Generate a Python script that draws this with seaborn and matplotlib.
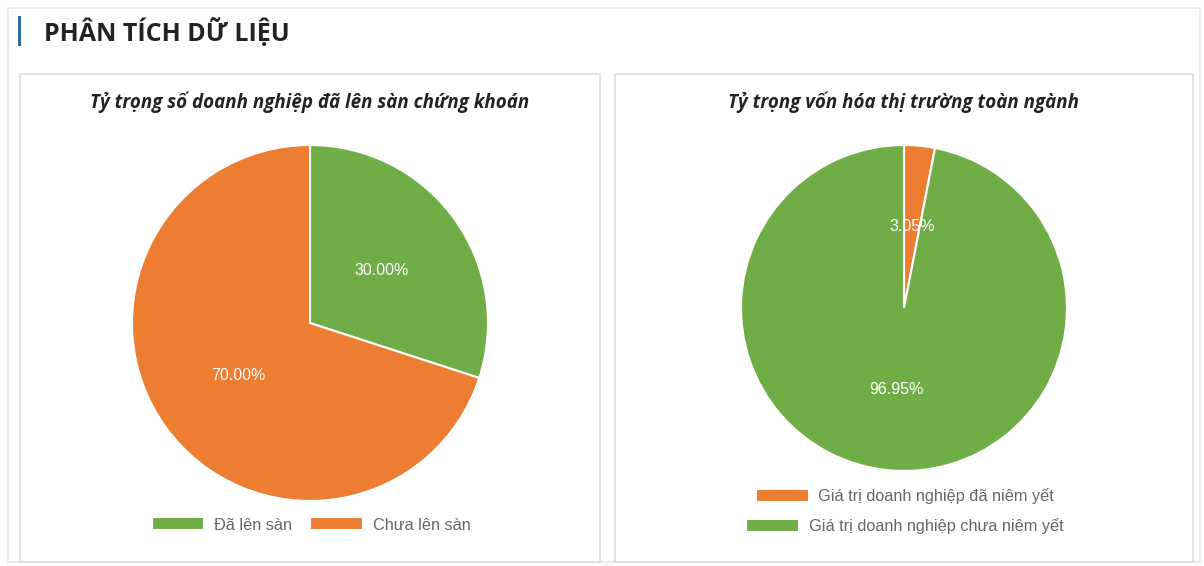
import matplotlib
matplotlib.use("Agg")
import matplotlib.pyplot as plt
from matplotlib.patches import Rectangle
import seaborn as sns

sns.set_theme(style="white")
plt.rcParams['font.family'] = ['Open Sans', 'DejaVu Sans']

# data
left_title = "Tỷ trọng số doanh nghiệp đã lên sàn chứng khoán"
left_labels = ["Đã lên sàn", "Chưa lên sàn"]
left_values = [30.00, 70.00]

right_title = "Tỷ trọng vốn hóa thị trường toàn ngành"
right_labels = ["Giá trị doanh nghiệp đã niêm yết", "Giá trị doanh nghiệp chưa niêm yết"]
right_values = [3.05, 96.95]

green = "#70ad47"
orange = "#ed7d31"
left_colors = [green, orange]
right_colors = [orange, green]

W, H = 1204, 566
fig = plt.figure(figsize=(W / 100, H / 100), dpi=100)
fig.patch.set_facecolor("white")


def px_rect(x0, y0, x1, y1, **kw):
    # rectangle given in pixel coords (top-left origin)
    r = Rectangle((x0 / W, 1 - y1 / H), (x1 - x0) / W, (y1 - y0) / H,
                  transform=fig.transFigure, **kw)
    fig.patches.append(r)


# frames
px_rect(8, 8, 1200, 562, fill=False, edgecolor="#e6e6e6", lw=1.2)
px_rect(20, 74, 600, 562, fill=False, edgecolor="#dddddd", lw=1.2)
px_rect(615, 74, 1193, 562, fill=False, edgecolor="#dddddd", lw=1.2)
px_rect(18, 16, 21, 46, facecolor="#2f6e9e", edgecolor="none")

fig.text(44 / W, 1 - 32 / H, "PHÂN TÍCH DỮ LIỆU", fontsize=18, fontweight="bold",
         color="#222222", va="center", ha="left")

legend_kw = dict(frameon=False, prop=dict(family="Liberation Sans", size=11.7),
                 labelcolor="#666666", handleheight=0.85, handletextpad=0.6,
                 handlelength=3.25)


def draw_pie(cx, cy, r, values, colors, title):
    ax = fig.add_axes([(cx - r) / W, 1 - (cy + r) / H, 2 * r / W, 2 * r / H])
    wedges, texts, autotexts = ax.pie(
        values, colors=colors, startangle=90, counterclock=False,
        autopct="%.2f%%", pctdistance=0.5,
        wedgeprops=dict(edgecolor="white", linewidth=1.5),
        textprops=dict(color="white", fontsize=11.5, family=["Liberation Sans"]))
    ax.set_xlim(-1, 1)
    ax.set_ylim(-1, 1)
    ax.set_aspect("equal")
    ax.axis("off")
    fig.text(cx / W, 1 - 102 / H, title, fontsize=13.5, fontweight="bold",
             style="italic", color="#222222", ha="center", va="center")
    return wedges


lw = draw_pie(310, 323, 178, left_values, left_colors, left_title)
fig.legend(lw, left_labels, ncol=2, loc="center",
           bbox_to_anchor=(311 / W, 1 - 525 / H), columnspacing=1.1, **legend_kw)

rw = draw_pie(904, 308, 163, right_values, right_colors, right_title)
# each row centred on its own, as in the original
for i, y in enumerate([496, 526]):
    fig.legend([rw[i]], [right_labels[i]], loc="center",
               bbox_to_anchor=(905 / W, 1 - y / H), **legend_kw)

fig.savefig("out.png", dpi=100)
